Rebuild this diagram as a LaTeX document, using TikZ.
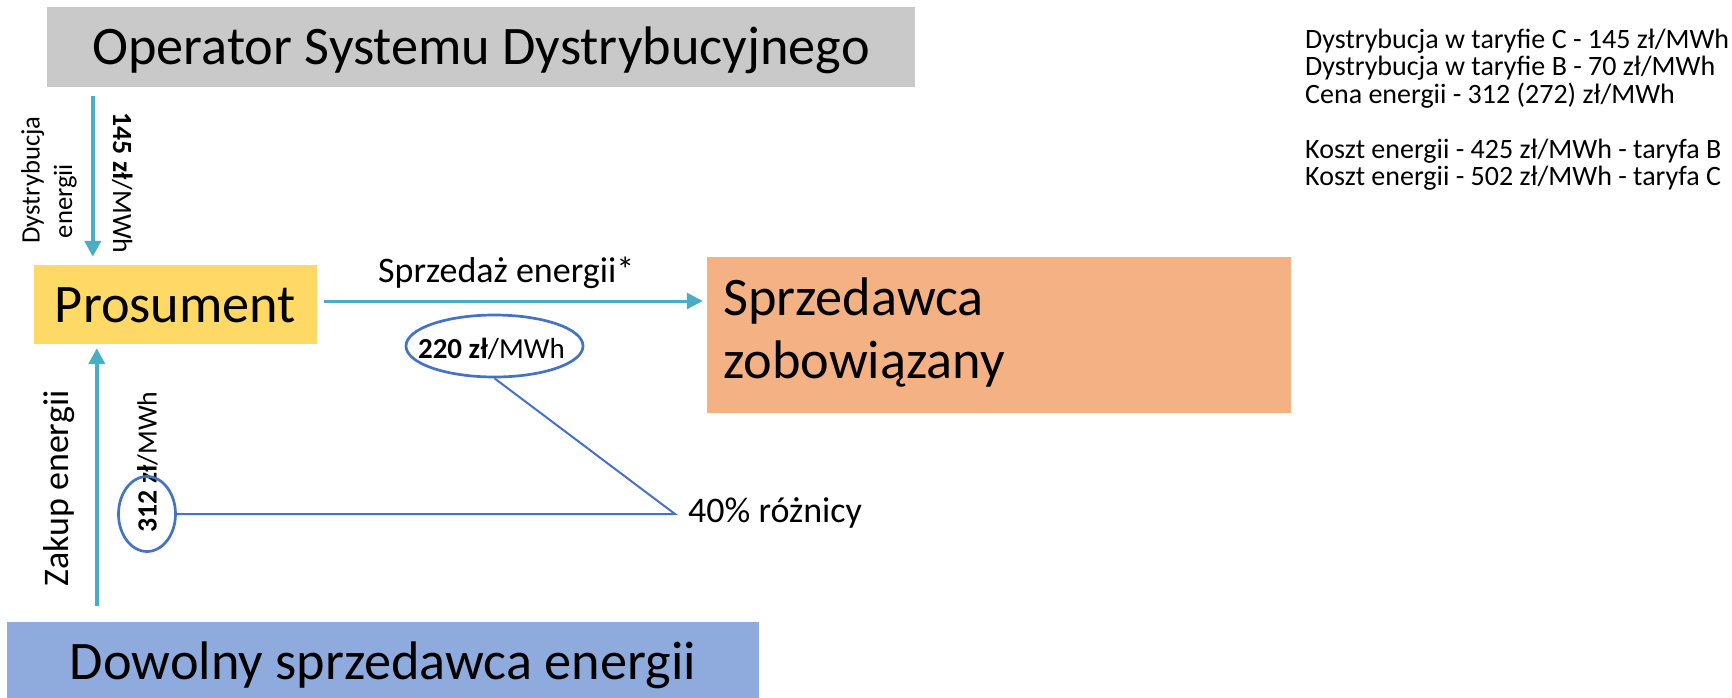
\documentclass[tikz,border=0pt]{standalone}
\usepackage{fontspec}
\setmainfont{Carlito}
\usetikzlibrary{arrows.meta,shapes.geometric,calc}
\definecolor{osdgray}{RGB}{201,201,201}
\definecolor{prosyellow}{RGB}{255,217,102}
\definecolor{sellorange}{RGB}{244,177,131}
\definecolor{anyblue}{RGB}{143,170,220}
\definecolor{arrteal}{RGB}{75,172,198}
\definecolor{lineblue}{RGB}{68,114,196}
\newcommand{\fbig}{\fontsize{54.3}{62}\selectfont}
\newcommand{\fmid}{\fontsize{36}{42}\selectfont}
\newcommand{\fsmall}{\fontsize{27.8}{32}\selectfont}
\newcommand{\fell}{\fontsize{29}{33}\selectfont}
\newcommand{\fdys}{\fontsize{26.6}{30}\selectfont}
\newcommand{\finfo}{\fontsize{28}{32}\selectfont}
\begin{document}
\begin{tikzpicture}[x=1pt,y=-1pt,
  box/.style={draw=none, inner sep=0pt, text height=35pt, text depth=0pt, font=\fbig},
  txt/.style={inner sep=0pt},
  flow/.style={draw=arrteal, line width=4pt, -{Triangle[length=16pt,width=16pt]}},
  ell/.style={draw=lineblue, line width=2.7pt, ellipse, inner sep=0pt},
  conn/.style={draw=lineblue, line width=2pt}]
\useasboundingbox (0,0) rectangle (1732,697);
% boxes
\node[box, fill=osdgray, minimum width=868pt, minimum height=80pt] (osd) at (481,47) {Operator Systemu Dystrybucyjnego};
\node[box, fill=prosyellow, minimum width=283pt, minimum height=79pt] (pros) at (175.5,304.5) {Prosument};
\node[box, fill=sellorange, minimum width=584pt, minimum height=156pt] (sprz) at (999,335) {};
\node[txt, anchor=base west, font=\fbig] (sprz1) at (723,315) {Sprzedawca};
\node[txt, anchor=base west, font=\fbig] (sprz2) at (723,378) {zobowiązany};
\node[box, fill=anyblue, minimum width=752pt, minimum height=79pt] (dow) at (383,661.5) {Dowolny sprzedawca energii};
% arrows
\path (pros.north west) ++(59,0) coordinate (xd);
\draw[flow, shorten <=9pt, shorten >=8pt] (xd |- osd.south) -- (xd |- pros.north);
\path (pros.north west) ++(63,0) coordinate (xu);
\draw[flow, shorten <=16pt, shorten >=4pt] (xu |- dow.north) -- (xu |- pros.south);
\coordinate (hy) at (0,301);
\draw[flow, line width=3pt, shorten <=7pt, shorten >=4pt] (pros.east |- hy) -- (sprz.west |- hy);
% arrow labels
\node[txt, rotate=90, anchor=base, font=\fdys] (dys1) at (39.5,180) {Dystrybucja};
\node[txt, rotate=90, anchor=base, font=\fdys] (dys2) at (72,201) {energii};
\node[txt, rotate=-90, anchor=base, font=\fsmall] (p145) at (113,183) {\textbf{145 zł}/MWh};
\node[txt, rotate=90, anchor=base, font=\fmid] (zak) at (68.3,488.5) {Zakup energii};
\node[txt, rotate=90, anchor=base, font=\fsmall] (p312) at (156.5,462) {\textbf{312 zł}/MWh};
\node[txt, anchor=base west, font=\fmid] (sprzed) at (378,282) {Sprzedaż energii*};
% ellipses and links
\node[ell, minimum width=177pt, minimum height=62pt] (e220) at (494.5,346) {};
\node[txt, anchor=base, font=\fell] (t220) at (491.5,358.5) {\textbf{220 zł}/MWh};
\node[ell, minimum width=57pt, minimum height=75pt] (e312) at (147,514) {};
\node[txt, anchor=base west, font=\fmid] (roz) at (688,522) {40\% różnicy};
\coordinate (k) at (675,514);
\draw[conn] (e312.east) -- (k) -- (e220.south);
% info block
\node[txt, anchor=base west, font=\finfo] (i1) at (1305,48) {Dystrybucja w taryfie C - 145 zł/MWh};
\node[txt, anchor=base west, font=\finfo] (i2) at (1305,75.5) {Dystrybucja w taryfie B - 70 zł/MWh};
\node[txt, anchor=base west, font=\finfo] (i3) at (1305,103) {Cena energii - 312 (272) zł/MWh};
\node[txt, anchor=base west, font=\finfo] (i4) at (1305,158) {Koszt energii - 425 zł/MWh - taryfa B};
\node[txt, anchor=base west, font=\finfo] (i5) at (1305,185.5) {Koszt energii - 502 zł/MWh - taryfa C};
\end{tikzpicture}
\end{document}
